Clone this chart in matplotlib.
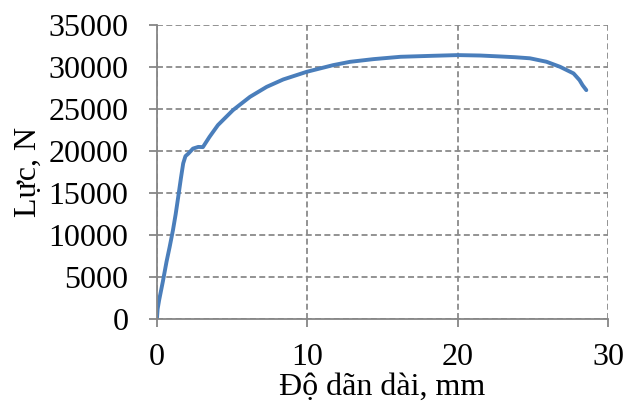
import matplotlib
matplotlib.use("Agg")
import matplotlib.pyplot as plt

# elongation (mm) vs force (N)
elong = [0.0, 0.05, 0.15, 0.4, 0.64, 0.85, 1.07, 1.25, 1.42, 1.6, 1.75, 1.9, 2.09, 2.4, 2.75, 3.06,
         3.5, 4.06, 5.06, 6.19, 7.3, 8.4, 9.96, 11.73, 12.84, 14.4, 16.2, 18.4, 20.0, 21.5, 22.8,
         23.8, 24.8, 25.9, 26.8, 27.7, 28.1, 28.3, 28.55]
force = [0, 1200, 2260, 4500, 6820, 8600, 10600, 12500, 14560, 16800, 18540, 19400, 19700, 20300,
         20500, 20480, 21700, 23100, 24880, 26460, 27650, 28530, 29440, 30240, 30630, 30950, 31230,
         31350, 31430, 31380, 31270, 31180, 31050, 30640, 30040, 29250, 28450, 27850, 27260]

plt.rcParams['font.family'] = ['Liberation Serif', 'DejaVu Serif']

fig = plt.figure(figsize=(6.25, 4.05), dpi=100)
ax = fig.add_axes([0.251, 0.212, 0.722, 0.726])

ax.plot(elong, force, color='#4a7ebb', lw=2.8, solid_capstyle='round', solid_joinstyle='round')

ax.set_xlim(0, 30)
ax.set_ylim(0, 35000)
ax.set_xticks([0, 10, 20, 30])
ax.set_yticks(range(0, 35001, 5000))
ax.grid(True, color='#8a8a8a', linestyle=(0, (3.3, 1.85)), lw=1.3)
ax.set_axisbelow(True)

for s in ['top', 'right']:
    ax.spines[s].set_visible(False)
for s in ['left', 'bottom']:
    ax.spines[s].set_color('#868686')
    ax.spines[s].set_linewidth(1.3)
    ax.spines[s].set_zorder(2.6)

ax.tick_params(colors='#868686', labelcolor='black', labelsize=23, length=6, width=1.3)
ax.tick_params(axis='y', pad=14.5)
ax.tick_params(axis='x', pad=11)
ax.set_xlabel('Độ dãn dài, mm', fontsize=23, labelpad=1)
ax.set_ylabel('Lực, N', fontsize=23, labelpad=4)

fig.savefig('out.png', dpi=100)
